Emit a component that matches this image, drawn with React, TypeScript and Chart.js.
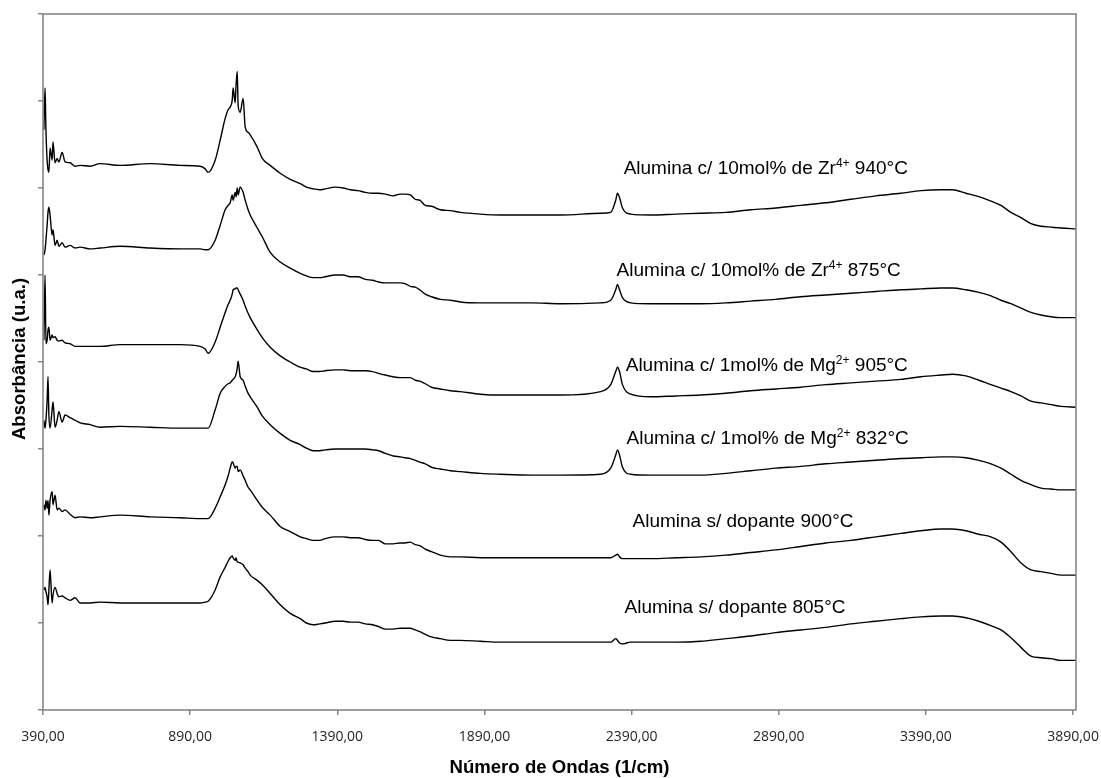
import React, { useEffect, useRef } from "react";
import { Chart, registerables } from "chart.js";

Chart.register(...registerables);

// Wavenumber grid (1/cm) shared by every spectrum
const waveNumbers = [
  393, 397, 400, 404, 407, 410, 414, 421, 424, 431, 438, 444, 455, 465, 482, 499, 516, 550, 584, 652,
  754, 856, 924, 941, 951, 975, 992, 1009, 1019, 1026, 1033, 1036, 1043, 1046, 1050, 1053, 1060, 1070,
  1077, 1087, 1094, 1118, 1135, 1162, 1196, 1230, 1264,
  1285, 1308, 1330, 1349, 1383, 1410, 1434, 1460, 1485, 1510, 1530, 1553, 1580, 1604, 1620, 1638, 1655,
  1670, 1689, 1710, 1740, 1774, 1808, 1876, 1944, 2050, 2149, 2285, 2319, 2336, 2342, 2349, 2359, 2387,
  2455, 2540, 2625, 2710, 2795, 2880, 2965, 3050, 3135, 3220, 3305, 3373, 3441, 3480, 3526, 3570, 3611,
  3645, 3679, 3713, 3747, 3781, 3815, 3849, 3900,
];

const zr940 = [
  6.67, 7.15, 6.67, 6.32, 6.21, 6.18, 6.46, 6.32, 6.53, 6.29, 6.34, 6.30, 6.41, 6.30, 6.29, 6.25, 6.26, 6.25, 6.28, 6.26,
  6.28, 6.26, 6.25, 6.22, 6.18, 6.32, 6.55, 6.80, 6.90, 6.93, 7.01, 7.15, 6.98, 7.18, 7.34, 6.95, 6.87, 7.03,
  6.70, 6.64, 6.61, 6.47, 6.34, 6.26, 6.17, 6.10, 6.05,
  6.01, 5.99, 5.98, 5.99, 6.01, 6.00, 5.98, 5.97, 5.95, 5.94, 5.94, 5.93, 5.91, 5.93, 5.93, 5.92, 5.87,
  5.86, 5.80, 5.79, 5.75, 5.74, 5.72, 5.70, 5.69, 5.69, 5.69, 5.71, 5.72, 5.86, 5.94, 5.89, 5.77, 5.70,
  5.69, 5.70, 5.71, 5.72, 5.75, 5.77, 5.80, 5.83, 5.87, 5.91, 5.94, 5.97, 5.98, 5.98, 5.94, 5.90, 5.85,
  5.80, 5.72, 5.66, 5.59, 5.56, 5.55, 5.54, 5.53,
];

const zr875 = [
  5.23, 5.29, 5.40, 5.57, 5.72, 5.78, 5.69, 5.46, 5.52, 5.34, 5.40, 5.33, 5.37, 5.32, 5.34, 5.31, 5.32, 5.30, 5.31, 5.33,
  5.31, 5.30, 5.30, 5.29, 5.29, 5.40, 5.57, 5.75, 5.80, 5.83, 5.92, 5.86, 5.95, 5.90, 6.00, 5.92, 6.01, 5.95,
  5.86, 5.75, 5.69, 5.54, 5.44, 5.26, 5.15, 5.08, 5.02,
  4.99, 4.97, 4.97, 4.98, 5.00, 5.00, 4.98, 4.98, 4.95, 4.94, 4.92, 4.91, 4.91, 4.91, 4.90, 4.87, 4.86,
  4.83, 4.78, 4.75, 4.72, 4.71, 4.69, 4.68, 4.68, 4.68, 4.67, 4.68, 4.71, 4.83, 4.89, 4.83, 4.74, 4.68,
  4.67, 4.67, 4.67, 4.68, 4.70, 4.72, 4.75, 4.77, 4.79, 4.81, 4.83, 4.84, 4.85, 4.85, 4.83, 4.80, 4.76,
  4.71, 4.67, 4.62, 4.57, 4.54, 4.52, 4.51, 4.51,
];

const mg905 = [
  4.25, 5.00, 4.21, 4.25, 4.37, 4.40, 4.25, 4.31, 4.28, 4.29, 4.25, 4.24, 4.25, 4.22, 4.21, 4.18, 4.18, 4.18, 4.18, 4.20,
  4.20, 4.20, 4.18, 4.15, 4.10, 4.23, 4.40, 4.57, 4.66, 4.71, 4.78, 4.83, 4.84, 4.85, 4.85, 4.83, 4.78, 4.71,
  4.64, 4.56, 4.51, 4.37, 4.28, 4.17, 4.07, 4.00, 3.94,
  3.92, 3.89, 3.89, 3.90, 3.91, 3.91, 3.90, 3.90, 3.90, 3.89, 3.87, 3.85, 3.83, 3.82, 3.82, 3.82, 3.79,
  3.78, 3.75, 3.71, 3.69, 3.67, 3.66, 3.63, 3.62, 3.62, 3.62, 3.66, 3.74, 3.89, 3.94, 3.89, 3.74, 3.63,
  3.60, 3.61, 3.62, 3.64, 3.67, 3.69, 3.71, 3.74, 3.76, 3.78, 3.80, 3.83, 3.85, 3.86, 3.84, 3.79, 3.74,
  3.70, 3.66, 3.61, 3.55, 3.53, 3.51, 3.49, 3.48,
];

const mg832 = [
  3.33, 3.24, 3.33, 3.56, 3.83, 3.39, 3.24, 3.45, 3.54, 3.25, 3.33, 3.43, 3.31, 3.39, 3.36, 3.33, 3.30, 3.28, 3.25, 3.26,
  3.25, 3.24, 3.24, 3.24, 3.24, 3.45, 3.64, 3.72, 3.75, 3.76, 3.79, 3.80, 3.83, 3.86, 3.93, 4.01, 3.83, 3.79,
  3.72, 3.64, 3.60, 3.48, 3.38, 3.28, 3.18, 3.10, 3.05,
  3.01, 2.98, 2.98, 2.99, 3.00, 3.00, 3.00, 3.00, 3.00, 2.99, 2.98, 2.95, 2.92, 2.91, 2.90, 2.89, 2.87,
  2.85, 2.83, 2.79, 2.77, 2.75, 2.74, 2.72, 2.71, 2.70, 2.70, 2.71, 2.78, 2.93, 2.99, 2.93, 2.79, 2.71,
  2.70, 2.70, 2.70, 2.72, 2.75, 2.78, 2.80, 2.83, 2.85, 2.87, 2.89, 2.90, 2.91, 2.91, 2.90, 2.87, 2.83,
  2.78, 2.71, 2.64, 2.59, 2.55, 2.54, 2.53, 2.53,
];

const pure900 = [
  2.36, 2.30, 2.41, 2.32, 2.41, 2.24, 2.41, 2.51, 2.36, 2.47, 2.30, 2.32, 2.28, 2.30, 2.25, 2.21, 2.22, 2.21, 2.22, 2.24,
  2.22, 2.21, 2.20, 2.20, 2.20, 2.32, 2.45, 2.59, 2.69, 2.78, 2.85, 2.84, 2.78, 2.80, 2.80, 2.74, 2.76, 2.69,
  2.64, 2.56, 2.53, 2.41, 2.33, 2.24, 2.11, 2.05, 1.99,
  1.97, 1.95, 1.95, 1.97, 1.99, 1.99, 1.98, 1.98, 1.96, 1.95, 1.95, 1.91, 1.91, 1.92, 1.92, 1.93, 1.90,
  1.89, 1.85, 1.82, 1.78, 1.76, 1.76, 1.75, 1.75, 1.75, 1.75, 1.75, 1.75, 1.78, 1.79, 1.76, 1.74, 1.74,
  1.74, 1.75, 1.76, 1.78, 1.81, 1.84, 1.88, 1.92, 1.95, 1.99, 2.03, 2.06, 2.08, 2.08, 2.06, 2.02, 1.99,
  1.93, 1.82, 1.69, 1.61, 1.59, 1.57, 1.55, 1.55,
];

const pure805 = [
  1.38, 1.41, 1.36, 1.30, 1.21, 1.38, 1.61, 1.23, 1.32, 1.41, 1.34, 1.30, 1.31, 1.29, 1.26, 1.29, 1.23, 1.23, 1.24, 1.23,
  1.23, 1.23, 1.23, 1.24, 1.25, 1.38, 1.53, 1.64, 1.71, 1.75, 1.77, 1.75, 1.72, 1.75, 1.70, 1.70, 1.69, 1.67,
  1.63, 1.59, 1.55, 1.49, 1.44, 1.34, 1.21, 1.11, 1.05,
  1.00, 0.98, 0.99, 1.00, 1.02, 1.02, 1.01, 1.01, 0.99, 0.98, 0.96, 0.93, 0.93, 0.94, 0.94, 0.94, 0.92,
  0.90, 0.87, 0.84, 0.82, 0.80, 0.80, 0.79, 0.78, 0.78, 0.78, 0.78, 0.78, 0.82, 0.80, 0.77, 0.76, 0.78,
  0.78, 0.78, 0.79, 0.82, 0.85, 0.89, 0.92, 0.95, 0.99, 1.02, 1.05, 1.07, 1.08, 1.08, 1.06, 1.02, 0.97,
  0.92, 0.83, 0.72, 0.62, 0.60, 0.59, 0.57, 0.57,
];

const seriesValues = [zr940, zr875, mg905, mg832, pure900, pure805];
const seriesNames = [
  "Alumina c/ 10mol% de Zr4+ 940°C",
  "Alumina c/ 10mol% de Zr4+ 875°C",
  "Alumina c/ 1mol% de Mg2+ 905°C",
  "Alumina c/ 1mol% de Mg2+ 832°C",
  "Alumina s/ dopante 900°C",
  "Alumina s/ dopante 805°C",
];

// Curve labels: text pieces (with superscript ion charge)
const labelMain = [
  "Alumina c/ 10mol% de Zr",
  "Alumina c/ 10mol% de Zr",
  "Alumina c/ 1mol% de Mg",
  "Alumina c/ 1mol% de Mg",
  "Alumina s/ dopante 900°C",
  "Alumina s/ dopante 805°C",
];
const labelSup = ["4+", "4+", "2+", "2+", "", ""];
const labelTail = [" 940°C", " 875°C", " 905°C", " 832°C", "", ""];
const labelWave = [2363, 2339, 2370, 2373, 2393, 2366];
const labelLevel = [6.16, 4.99, 3.9, 3.06, 2.1, 1.11];

const xTicks = [390, 890, 1390, 1890, 2390, 2890, 3390, 3890];
const yTicks = [0, 1, 2, 3, 4, 5, 6, 7, 8];

const xTitle = "Número de Ondas (1/cm)";
const yTitle = "Absorbância (u.a.)";

const AXIS_GRAY = "#868686";
const TEXT_FONT = '"Liberation Sans", Arial, sans-serif';

const decorPlugin = {
  id: "decor",
  afterDatasetsDraw(chart: any) {
    const { ctx, chartArea: a, scales } = chart;
    ctx.save();
    // plot frame
    ctx.strokeStyle = AXIS_GRAY;
    ctx.lineWidth = 1.6;
    ctx.strokeRect(a.left, a.top, a.right - a.left, a.bottom - a.top);

    // curve labels
    ctx.fillStyle = "#000";
    ctx.textAlign = "left";
    ctx.textBaseline = "alphabetic";
    for (let i = 0; i < labelMain.length; i++) {
      const x = scales.x.getPixelForValue(labelWave[i]);
      const y = scales.y.getPixelForValue(labelLevel[i]);
      ctx.font = `19px ${TEXT_FONT}`;
      ctx.fillText(labelMain[i], x, y);
      let w = ctx.measureText(labelMain[i]).width;
      if (labelSup[i]) {
        ctx.font = `12px ${TEXT_FONT}`;
        ctx.fillText(labelSup[i], x + w, y - 7);
        w += ctx.measureText(labelSup[i]).width;
      }
      if (labelTail[i]) {
        ctx.font = `19px ${TEXT_FONT}`;
        ctx.fillText(labelTail[i], x + w, y);
      }
    }

    // axis titles
    ctx.font = `bold 18.6px ${TEXT_FONT}`;
    ctx.textAlign = "center";
    ctx.textBaseline = "middle";
    ctx.fillText(xTitle, (a.left + a.right) / 2, 768);
    ctx.translate(20, (a.top + a.bottom) / 2 - 3);
    ctx.rotate(-Math.PI / 2);
    ctx.fillText(yTitle, 0, 0);
    ctx.restore();
  },
};

export default function App() {
  const canvasRef = useRef<HTMLCanvasElement | null>(null);

  useEffect(() => {
    const canvas = canvasRef.current;
    if (!canvas) return;
    const chart = new Chart(canvas, {
      type: "line",
      data: {
        datasets: seriesValues.map((vals, i) => ({
          label: seriesNames[i],
          data: waveNumbers.map((w, j) => ({ x: w, y: vals[j] })),
          borderColor: "#000",
          borderWidth: 1.4,
          pointRadius: 0,
          cubicInterpolationMode: "monotone" as const,
          fill: false,
        })),
      },
      options: {
        animation: false,
        responsive: false,
        maintainAspectRatio: false,
        devicePixelRatio: 1,
        layout: { padding: { left: 0, right: 25, top: 14, bottom: 0 } },
        plugins: {
          legend: { display: false },
          tooltip: { enabled: false },
          title: { display: false },
        },
        scales: {
          x: {
            type: "linear",
            min: 390,
            max: 3900,
            afterBuildTicks: (scale: any) => {
              scale.ticks = xTicks.map((v) => ({ value: v }));
            },
            afterFit: (scale: any) => {
              scale.height = 68;
              scale.paddingLeft = 0;
              scale.paddingRight = 0;
            },
            border: { display: false },
            grid: {
              display: true,
              drawOnChartArea: false,
              drawTicks: true,
              tickLength: 5,
              color: AXIS_GRAY,
              lineWidth: 1.5,
            },
            ticks: {
              autoSkip: false,
              maxRotation: 0,
              minRotation: 0,
              padding: 14,
              color: "#262626",
              font: { family: '"Open Sans", sans-serif', size: 14 },
              callback: (v: any) => Number(v).toFixed(2).replace(".", ","),
            },
          },
          y: {
            type: "linear",
            min: 0,
            max: 8,
            afterBuildTicks: (scale: any) => {
              scale.ticks = yTicks.map((v) => ({ value: v }));
            },
            afterFit: (scale: any) => {
              scale.width = 43;
              scale.paddingTop = 0;
              scale.paddingBottom = 0;
            },
            border: { display: false },
            grid: {
              display: true,
              drawOnChartArea: false,
              drawTicks: true,
              tickLength: 5,
              color: AXIS_GRAY,
              lineWidth: 1.5,
            },
            ticks: { display: false },
          },
        },
      },
      plugins: [decorPlugin],
    });
    return () => chart.destroy();
  }, []);

  return (
    <div style={{ position: "fixed", left: 0, top: 0, width: 1101, height: 778, background: "#fff" }}>
      <canvas ref={canvasRef} width={1101} height={778} style={{ width: 1101, height: 778 }} />
    </div>
  );
}
